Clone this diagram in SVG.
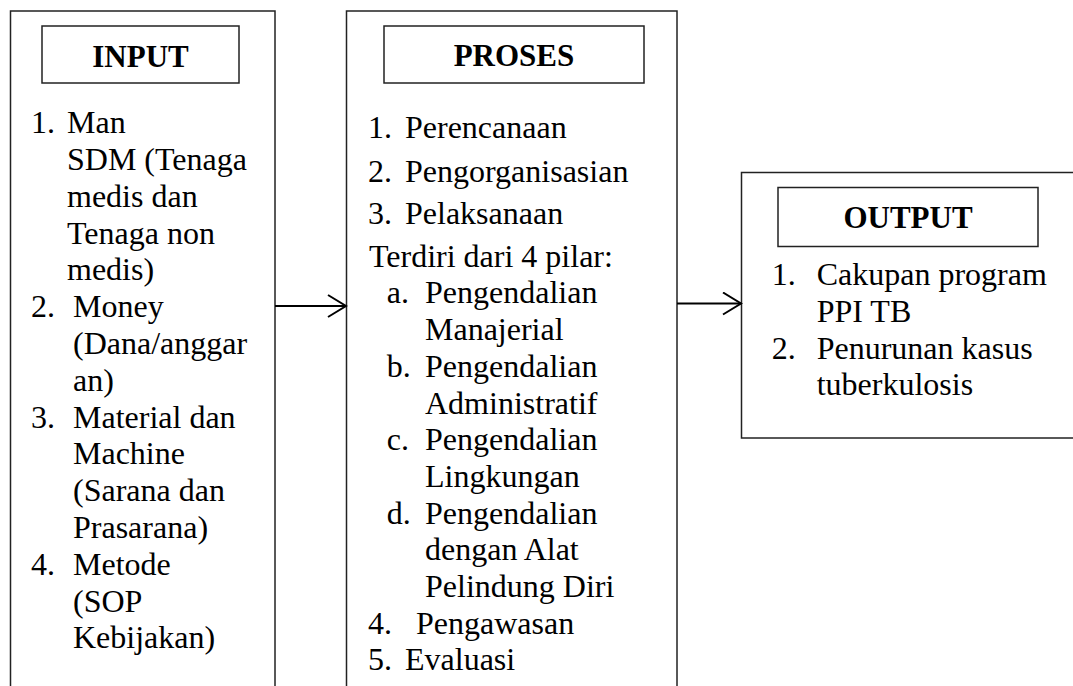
<svg xmlns="http://www.w3.org/2000/svg" width="1073" height="686" viewBox="0 0 1073 686">
<style>
.box{fill:none;stroke:#222;stroke-width:1.5}
.t{font-family:"Liberation Serif","Times New Roman",serif;font-size:32px;fill:#000}
.h{font-family:"Liberation Serif","Times New Roman",serif;font-size:31px;font-weight:bold;fill:#000;text-anchor:middle}
.c{fill:none;stroke:#000;stroke-width:2}
</style>
<defs>
<marker id="arr" markerWidth="22" markerHeight="26" refX="19" refY="12" orient="auto" markerUnits="userSpaceOnUse">
<path d="M1,1 L19,12 L1,23" fill="none" stroke="#000" stroke-width="2"/>
</marker>
</defs>
<rect width="1073" height="686" fill="#fff"/>
<g id="input">
<rect class="box" x="10.5" y="11" width="264.5" height="690"/>
<rect class="box" x="42" y="26" width="197" height="57"/>
<text class="h" x="140.5" y="66.5">INPUT</text>
<text class="t" x="31" y="133.3">1.</text>
<text class="t" x="67" y="133.3">Man</text>
<text class="t" x="67" y="170">SDM (Tenaga</text>
<text class="t" x="67" y="206.8">medis dan</text>
<text class="t" x="67" y="243.6">Tenaga non</text>
<text class="t" x="67" y="280.4">medis)</text>
<text class="t" x="31" y="317.2">2.</text>
<text class="t" x="73" y="317.2">Money</text>
<text class="t" x="73" y="354">(Dana/anggar</text>
<text class="t" x="73" y="390.8">an)</text>
<text class="t" x="31" y="427.6">3.</text>
<text class="t" x="73" y="427.6">Material dan</text>
<text class="t" x="73" y="464.4">Machine</text>
<text class="t" x="73" y="501.2">(Sarana dan</text>
<text class="t" x="73" y="538">Prasarana)</text>
<text class="t" x="31" y="574.8">4.</text>
<text class="t" x="73" y="574.8">Metode</text>
<text class="t" x="73" y="611.6">(SOP</text>
<text class="t" x="73" y="648.4">Kebijakan)</text>
</g>
<g id="proses">
<rect class="box" x="346.5" y="11" width="330.5" height="690"/>
<rect class="box" x="384" y="26" width="260" height="57"/>
<text class="h" x="514" y="66">PROSES</text>
<text class="t" x="368" y="138.3">1.</text>
<text class="t" x="405" y="138.3">Perencanaan</text>
<text class="t" x="368" y="181.5">2.</text>
<text class="t" x="405" y="181.5">Pengorganisasian</text>
<text class="t" x="368" y="224">3.</text>
<text class="t" x="405" y="224">Pelaksanaan</text>
<text class="t" x="369" y="266.7">Terdiri dari 4 pilar:</text>
<text class="t" x="386.7" y="303.4">a.</text>
<text class="t" x="425" y="303.4">Pengendalian</text>
<text class="t" x="425" y="340.1">Manajerial</text>
<text class="t" x="386.7" y="376.8">b.</text>
<text class="t" x="425" y="376.8">Pengendalian</text>
<text class="t" x="425" y="413.5">Administratif</text>
<text class="t" x="386.7" y="450.2">c.</text>
<text class="t" x="425" y="450.2">Pengendalian</text>
<text class="t" x="425" y="486.9">Lingkungan</text>
<text class="t" x="386.7" y="523.6">d.</text>
<text class="t" x="425" y="523.6">Pengendalian</text>
<text class="t" x="425" y="560.3">dengan Alat</text>
<text class="t" x="425" y="597">Pelindung Diri</text>
<text class="t" x="368" y="633.7">4.</text>
<text class="t" x="416" y="633.7">Pengawasan</text>
<text class="t" x="368" y="670.4">5.</text>
<text class="t" x="405" y="670.4">Evaluasi</text>
</g>
<g id="output">
<rect class="box" x="741.5" y="172.5" width="340" height="265.5"/>
<rect class="box" x="778" y="187.5" width="260" height="59"/>
<text class="h" x="908" y="228">OUTPUT</text>
<text class="t" x="771.7" y="285">1.</text>
<text class="t" x="816.7" y="285">Cakupan program</text>
<text class="t" x="816.7" y="321.8">PPI TB</text>
<text class="t" x="771.7" y="358.6">2.</text>
<text class="t" x="816.7" y="358.6">Penurunan kasus</text>
<text class="t" x="816.7" y="395.4">tuberkulosis</text>
</g>
<g id="connectors">
<line class="c" x1="275" y1="306" x2="346" y2="306" marker-end="url(#arr)"/>
<line class="c" x1="677" y1="303.5" x2="741" y2="303.5" marker-end="url(#arr)"/>
</g>
</svg>
